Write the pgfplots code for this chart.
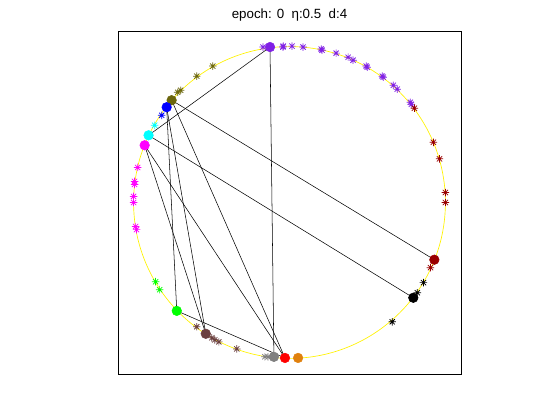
\documentclass[border=0pt]{standalone}
\usepackage{fontspec}
\setmainfont{Liberation Sans}
\usepackage{pgfplots}
\pgfplotsset{compat=1.18}

% matlab-like '*' marker: a plus and a cross on top of each other
\pgfdeclareplotmark{mstar}{%
  \pgfpathmoveto{\pgfqpoint{-\pgfplotmarksize}{0pt}}%
  \pgfpathlineto{\pgfqpoint{\pgfplotmarksize}{0pt}}%
  \pgfpathmoveto{\pgfqpoint{0pt}{-\pgfplotmarksize}}%
  \pgfpathlineto{\pgfqpoint{0pt}{\pgfplotmarksize}}%
  \pgfpathmoveto{\pgfqpoint{-.7\pgfplotmarksize}{-.7\pgfplotmarksize}}%
  \pgfpathlineto{\pgfqpoint{.7\pgfplotmarksize}{.7\pgfplotmarksize}}%
  \pgfpathmoveto{\pgfqpoint{-.7\pgfplotmarksize}{.7\pgfplotmarksize}}%
  \pgfpathlineto{\pgfqpoint{.7\pgfplotmarksize}{-.7\pgfplotmarksize}}%
  \pgfusepathqstroke}

\definecolor{cpurple}{rgb}{0.50,0.12,0.90}
\definecolor{colive}{rgb}{0.42,0.40,0.05}
\definecolor{cblue}{rgb}{0,0,1}
\definecolor{ccyan}{rgb}{0,1,1}
\definecolor{cmagenta}{rgb}{1,0,1}
\definecolor{cgreen}{rgb}{0,1,0}
\definecolor{cbrown}{rgb}{0.42,0.25,0.25}
\definecolor{cgray}{rgb}{0.5,0.5,0.5}
\definecolor{cred}{rgb}{1,0,0}
\definecolor{corange}{rgb}{0.88,0.50,0.05}
\definecolor{cdarkred}{rgb}{0.60,0,0}

\begin{document}
\begin{tikzpicture}
\path[use as bounding box] (0,0) rectangle (420pt,315pt);
\begin{axis}[
    at={(88.5pt,34.5pt)}, anchor=south west,
    scale only axis, width=257.25pt, height=257.25pt,
    xmin=-1.1, xmax=1.1, ymin=-1.1, ymax=1.1,
    xtick=\empty, ytick=\empty,
    axis line style={line width=0.5pt},
    title={epoch: 0\ \ η:0.5\ \ d:4},
    title style={font=\fontsize{10}{12}\selectfont, at={(0.5,1)}, anchor=center, yshift=6pt},
    mark size=2.8pt,
  ]
  \draw[yellow, line width=0.5pt] (axis cs:0,0) circle[radius=1];

  % samples
  \addplot[only marks, mark=mstar, cpurple, line width=0.55pt] coordinates {
    (-0.170,0.997) (-0.042,0.997) (-0.040,1.003) (0.016,1.003) (0.087,0.997)
    (0.203,0.984) (0.209,0.977) (0.299,0.958) (0.376,0.932) (0.408,0.913)
    (0.492,0.875) (0.498,0.868) (0.595,0.810) (0.601,0.804) (0.666,0.752)
    (0.691,0.727) (0.775,0.643) (0.781,0.630)};
  \addplot[only marks, mark=mstar, cdarkred, line width=0.55pt] coordinates {
    (0.801,0.605) (0.923,0.386) (0.962,0.280) (1.000,0.064) (1.000,0.000)
    (0.904,-0.418)};
  \addplot[only marks, mark=mstar, black, line width=0.55pt] coordinates {
    (0.820,-0.579) (0.859,-0.514) (0.659,-0.765)};
  \addplot[only marks, mark=mstar, cgreen, line width=0.55pt] coordinates {
    (-0.859,-0.508) (-0.833,-0.559)};
  \addplot[only marks, mark=mstar, cbrown, line width=0.55pt] coordinates {
    (-0.595,-0.797) (-0.498,-0.868) (-0.479,-0.881) (-0.453,-0.894) (-0.338,-0.939)};
  \addplot[only marks, mark=mstar, cgray, line width=0.55pt] coordinates {
    (-0.158,-0.990) (-0.138,-0.990)};
  \addplot[only marks, mark=mstar, colive, line width=0.55pt] coordinates {
    (-0.492,0.875) (-0.595,0.810) (-0.698,0.720) (-0.717,0.707)};
  \addplot[only marks, mark=mstar, cblue, line width=0.55pt] coordinates {
    (-0.820,0.559)};
  \addplot[only marks, mark=mstar, ccyan, line width=0.55pt] coordinates {
    (-0.865,0.495)};
  \addplot[only marks, mark=mstar, cmagenta, line width=0.55pt] coordinates {
    (-0.974,0.225) (-0.994,0.135) (-0.994,0.116) (-1.000,0.039) (-1.000,0.000)
    (-0.987,-0.154) (-0.981,-0.174)};

  % edges between centres
  \addplot[black, line width=0.4pt] coordinates {(-0.125,0.997) (-0.100,-0.990)};
  \addplot[black, line width=0.4pt] coordinates {(-0.125,0.997) (-0.904,0.431)};
  \addplot[black, line width=0.4pt] coordinates {(-0.756,0.656) (0.929,-0.367)};
  \addplot[black, line width=0.4pt] coordinates {(-0.904,0.431) (0.794,-0.611)};
  \addplot[black, line width=0.4pt] coordinates {(-0.788,0.611) (-0.723,-0.695)};
  \addplot[black, line width=0.4pt] coordinates {(-0.788,0.611) (-0.537,-0.842)};
  \addplot[black, line width=0.4pt] coordinates {(-0.929,0.367) (-0.537,-0.842)};
  \addplot[black, line width=0.4pt] coordinates {(-0.929,0.367) (-0.029,-0.997)};
  \addplot[black, line width=0.4pt] coordinates {(-0.723,-0.695) (-0.029,-0.997)};
  \addplot[black, line width=0.4pt] coordinates {(-0.756,0.656) (-0.029,-0.997)};

  % centres
  \addplot[only marks, mark=*, mark size=3.6pt, cpurple] coordinates {(-0.125,0.997)};
  \addplot[only marks, mark=*, mark size=3.6pt, colive] coordinates {(-0.756,0.656)};
  \addplot[only marks, mark=*, mark size=3.6pt, cblue] coordinates {(-0.788,0.611)};
  \addplot[only marks, mark=*, mark size=3.6pt, ccyan] coordinates {(-0.904,0.431)};
  \addplot[only marks, mark=*, mark size=3.6pt, cmagenta] coordinates {(-0.929,0.367)};
  \addplot[only marks, mark=*, mark size=3.6pt, cgreen] coordinates {(-0.723,-0.695)};
  \addplot[only marks, mark=*, mark size=3.6pt, cbrown] coordinates {(-0.537,-0.842)};
  \addplot[only marks, mark=*, mark size=3.6pt, cgray] coordinates {(-0.100,-0.990)};
  \addplot[only marks, mark=*, mark size=3.6pt, cred] coordinates {(-0.029,-0.997)};
  \addplot[only marks, mark=*, mark size=3.6pt, corange] coordinates {(0.055,-0.997)};
  \addplot[only marks, mark=*, mark size=3.6pt, black] coordinates {(0.794,-0.611)};
  \addplot[only marks, mark=*, mark size=3.6pt, cdarkred] coordinates {(0.929,-0.367)};
\end{axis}
\end{tikzpicture}
\end{document}
